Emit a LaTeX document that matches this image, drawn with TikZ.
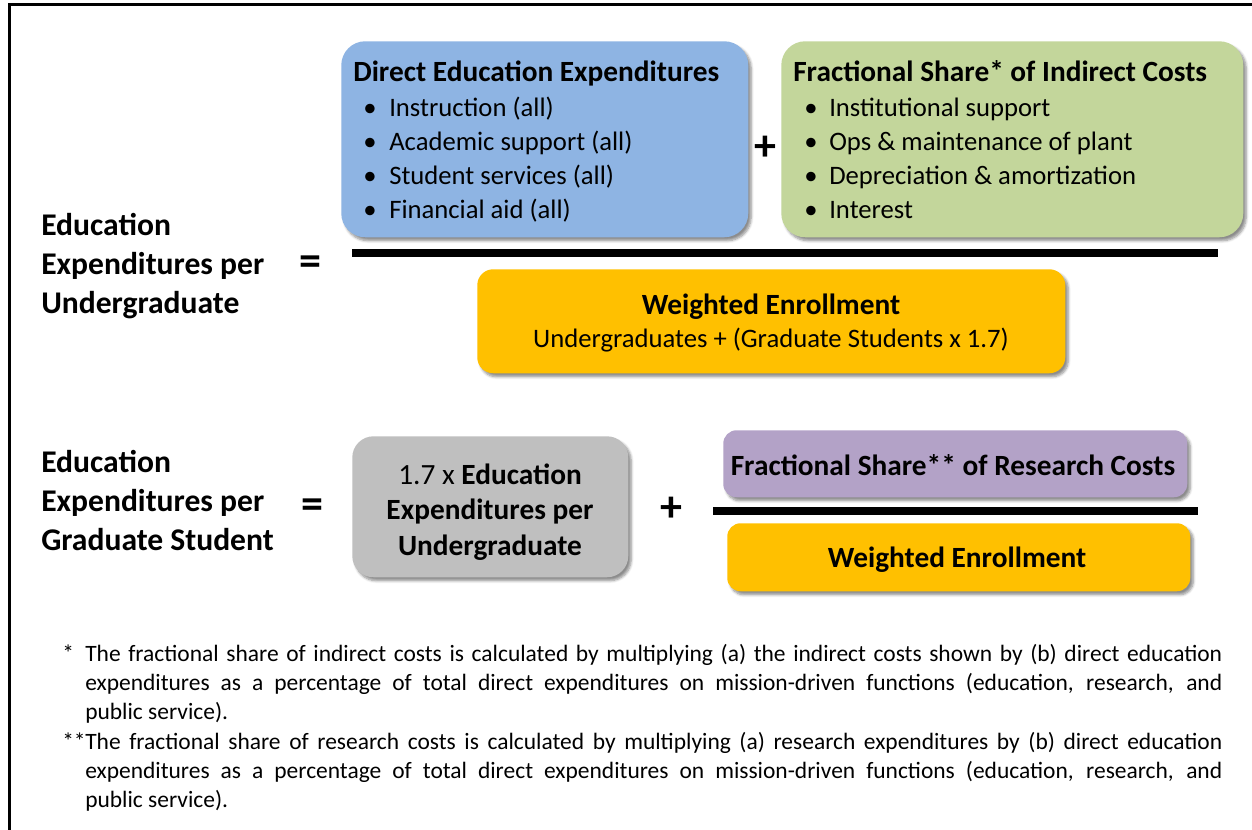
\documentclass[tikz,border=0pt]{standalone}
\usepackage{fontspec}
\setmainfont{Carlito}
\usetikzlibrary{shadows.blur}

\definecolor{boxblue}{HTML}{8EB4E3}
\definecolor{boxgreen}{HTML}{C3D69B}
\definecolor{boxorange}{HTML}{FFC000}
\definecolor{boxgray}{HTML}{BFBFBF}
\definecolor{boxpurple}{HTML}{B3A2C7}

\tikzset{
  panel/.style={rounded corners=#1, anchor=north west, inner sep=0pt,
    blur shadow={shadow xshift=2.2pt, shadow yshift=-2.6pt,
      shadow blur steps=6, shadow opacity=45}},
  headtext/.style={font=\fontsize{22}{26}\selectfont\bfseries, anchor=base west, inner sep=0pt},
  itemtext/.style={font=\fontsize{20}{24}\selectfont, anchor=base west, inner sep=0pt},
  bullettext/.style={font=\fontsize{20}{24}\selectfont, anchor=base, inner sep=0pt},
  sidelabel/.style={font=\fontsize{23.7}{29.25}\selectfont\bfseries, align=left, anchor=west, inner sep=0pt},
  optext/.style={font=\fontsize{33}{33}\selectfont\bfseries, anchor=center, inner sep=0pt},
  fracbar/.style={line width=6pt},
  note/.style={font=\fontsize{17.6}{21.75}\selectfont, text width=852.75pt, align=justify,
    anchor=north west, inner sep=0pt},
}

\begin{document}
\begin{tikzpicture}[x=0.75pt, y=-0.75pt]
  \useasboundingbox (0,0) rectangle (1252,830);

  % page frame (left and top edges)
  \draw[line width=1.9pt] (9.5,900) -- (9.5,4.7) -- (1300,4.7);

  % ---- undergraduate formula ----
  \node[panel=18pt, fill=boxblue, minimum width=407*0.75pt, minimum height=196*0.75pt] (direct) at (341,41) {};
  \node[panel=18pt, fill=boxgreen, minimum width=462*0.75pt, minimum height=196*0.75pt] (indirect) at (781,41) {};

  \node[headtext] (directhead) at (353,82) {Direct Education Expenditures};
  \foreach \t [count=\i] in {Instruction (all), Academic support (all), Student services (all), Financial aid (all)} {
    \node[bullettext] (db\i) at (370,83+34*\i) {\textbullet};
    \node[itemtext] (di\i) at (389,83+34*\i) {\t};
  }

  \node[headtext] (indirecthead) at (793,82) {Fractional Share* of Indirect Costs};
  \foreach \t [count=\i] in {Institutional support, Ops \& maintenance of plant, Depreciation \& amortization, Interest} {
    \node[bullettext] (ib\i) at (811,83+34*\i) {\textbullet};
    \node[itemtext] (ii\i) at (829,83+34*\i) {\t};
  }

  \node[optext] (plustop) at (765,148) {+};

  \coordinate (barAL) at (352,253);
  \coordinate (barAR) at (1218,253);
  \draw[fracbar] (barAL) -- (barAR);

  \node[panel=12pt, fill=boxorange, minimum width=588*0.75pt, minimum height=104*0.75pt] (weightA) at (477,269) {};
  \node[font=\fontsize{22}{26}\selectfont\bfseries, inner sep=0pt] (weightAhead) at (771,307) {Weighted Enrollment};
  \node[font=\fontsize{20}{24}\selectfont, inner sep=0pt] (weightAsub) at (771,340) {Undergraduates + (Graduate Students x 1.7)};

  \node[sidelabel] (undergrad) at (41,266) {Education\\Expenditures per\\Undergraduate};
  \node[optext] (eqtop) at (310,266) {=};

  % ---- graduate formula ----
  \node[sidelabel] (grad) at (41,501) {Education\\Expenditures per\\Graduate Student};
  \node[optext] (eqbot) at (312,509) {=};

  \node[panel=16pt, fill=boxgray, minimum width=276*0.75pt, minimum height=141*0.75pt] (scaled) at (352,436) {};
  \node[font=\fontsize{22}{26.6}\selectfont, align=center, inner sep=0pt] (scaledtext) at (490,512)
    {1.7 x \textbf{Education}\\\textbf{Expenditures per}\\\textbf{Undergraduate}};

  \node[optext] (plusbot) at (671,509) {+};

  \node[panel=10pt, fill=boxpurple, minimum width=464*0.75pt, minimum height=67*0.75pt] (research) at (723,430) {};
  \node[font=\fontsize{22}{26}\selectfont\bfseries, inner sep=0pt] (researchtext) at (953,465) {Fractional Share** of Research Costs};

  \coordinate (barBL) at (713,511);
  \coordinate (barBR) at (1198,511);
  \draw[fracbar] (barBL) -- (barBR);

  \node[panel=10pt, fill=boxorange, minimum width=463*0.75pt, minimum height=68*0.75pt] (weightB) at (727,523) {};
  \node[font=\fontsize{22}{26}\selectfont\bfseries, inner sep=0pt] (weightBtext) at (957,560) {Weighted Enrollment};

  % ---- footnotes ----
  \node[note] (note1) at (85,644) {\llap{\makebox[17.25pt][l]{*}}The fractional share of indirect costs is calculated by multiplying (a) the indirect costs shown by (b) direct education\linebreak
    expenditures as a percentage of total direct expenditures on mission-driven functions (education, research, and\linebreak
    public service).};
  \node[note] (note2) at (85,732) {\llap{\makebox[17.25pt][l]{**}}The fractional share of research costs is calculated by multiplying (a) research expenditures by (b) direct education\linebreak
    expenditures as a percentage of total direct expenditures on mission-driven functions (education, research, and\linebreak
    public service).};
\end{tikzpicture}
\end{document}
